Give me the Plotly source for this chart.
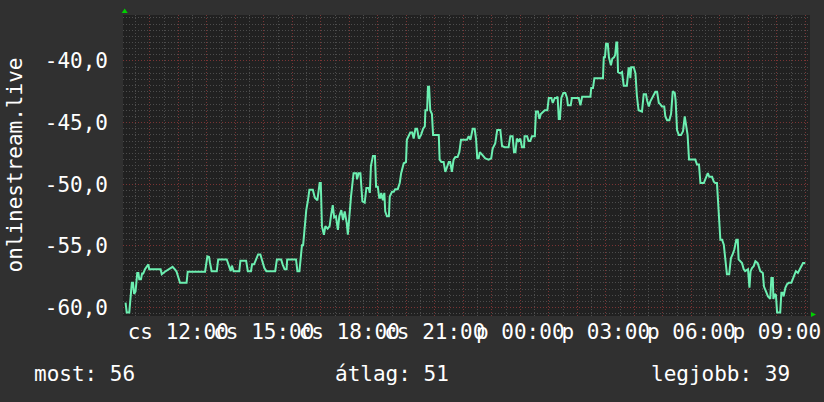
import plotly.graph_objects as go

# ---- data (time in hours since Thursday 00:00, signal value) ----
hours = [
    10.15, 10.19, 10.28, 10.37, 10.41, 10.45, 10.50, 10.56, 10.60, 10.63, 10.69, 10.73, 10.77, 10.83, 10.95, 10.98,
    11.38, 11.42, 11.53, 11.60, 11.71, 11.80, 11.88, 11.94, 12.06, 12.29, 12.33, 12.94, 13.02, 13.08, 13.11, 13.17,
    13.35, 13.40, 13.70, 13.75, 13.84,
    13.88, 13.94, 14.14, 14.18, 14.38, 14.44, 14.55, 14.59, 14.66, 14.80, 14.88, 14.96, 15.02, 15.09, 15.40, 15.46,
    15.61, 15.66, 15.73, 15.80, 15.82, 16.13, 16.18, 16.25, 16.28, 16.34, 16.38, 16.44, 16.49, 16.55, 16.60, 16.72,
    16.79, 16.88, 16.93, 16.96, 17.00, 17.04, 17.11, 17.16, 17.24, 17.31, 17.36, 17.42, 17.47, 17.53, 17.60, 17.65,
    17.72, 17.78, 17.84, 17.91, 17.95, 18.00,
    18.06, 18.15, 18.25, 18.27, 18.33, 18.39, 18.42, 18.46, 18.54, 18.60, 18.68, 18.72, 18.76, 18.83, 18.90, 18.94,
    19.00, 19.05, 19.09, 19.12, 19.18, 19.23, 19.26, 19.32, 19.39, 19.42, 19.50, 19.56, 19.61, 19.70, 19.77, 19.82,
    19.91, 19.99, 20.02, 20.08, 20.14, 20.21, 20.26, 20.32, 20.38, 20.44, 20.52, 20.59, 20.65, 20.67, 20.73, 20.76,
    20.80, 20.84, 20.90, 20.94, 21.14, 21.17, 21.23, 21.31, 21.37, 21.43, 21.49, 21.54, 21.60, 21.66, 21.72, 21.80,
    21.86, 21.92,
    22.13, 22.19, 22.25, 22.33, 22.40, 22.45, 22.49, 22.54, 22.58, 22.66, 22.77, 22.89, 22.98, 23.03, 23.12, 23.19,
    23.30, 23.36, 23.45, 23.59, 23.65, 23.73, 23.78, 23.83, 23.88, 23.94, 24.00, 24.06, 24.13, 24.15, 24.24, 24.29,
    24.35, 24.41, 24.51, 24.55, 24.62, 24.67, 24.72, 24.86, 24.95, 25.00, 25.09, 25.14, 25.21, 25.26, 25.31, 25.35,
    25.39, 25.44, 25.51, 25.58, 25.64, 25.67, 25.77, 25.81, 26.05,
    26.11, 26.17, 26.46, 26.49, 26.55, 26.60, 26.90, 26.93, 26.97, 27.01, 27.07, 27.11, 27.18, 27.23, 27.29, 27.33,
    27.37, 27.40, 27.43, 27.51, 27.57, 27.63, 27.74, 27.80, 27.84, 27.86, 27.89, 27.98, 28.04, 28.09, 28.15, 28.27,
    28.33, 28.41, 28.45, 28.51, 28.56, 28.66, 28.74, 28.80, 28.86, 28.91, 28.97, 29.05, 29.09, 29.15, 29.23, 29.29,
    29.35, 29.42, 29.45, 29.50, 29.56, 29.64, 29.71, 29.77, 29.82, 29.87, 29.92, 30.14,
    30.20, 30.27, 30.32, 30.44, 30.49, 30.58, 30.63, 30.73, 30.79, 30.84, 30.90, 30.96, 31.02, 31.08, 31.14, 31.19,
    31.25, 31.33, 31.39, 31.45, 31.51, 31.58, 31.63, 31.66, 31.78, 31.84, 31.89, 31.99, 32.04, 32.08, 32.13, 32.19,
    32.25, 32.33, 32.42, 32.51, 32.55, 32.62, 32.69, 32.77, 32.81, 32.86, 32.88, 32.93, 32.97, 33.01, 33.12, 33.16,
    33.21, 33.24, 33.30, 33.36, 33.42, 33.51, 33.59, 33.67, 33.74, 33.82, 33.92, 34.00,
]
values = [
    -59.6, -60.4, -60.4, -58.0, -58.0, -58.9, -58.7, -57.2, -57.2, -57.7, -57.7, -57.25, -57.25, -56.9, -56.5, -56.9,
    -56.9, -57.3, -57.1, -57.0, -56.9, -56.7, -56.9, -57.1, -58.0, -58.0, -57.1, -57.1, -55.85, -55.9, -56.35, -57.05,
    -57.05, -56.1, -56.1, -56.5, -57.05,
    -56.6, -57.05, -57.05, -56.2, -56.2, -57.05, -57.05, -56.5, -56.5, -55.7, -55.7, -56.4, -56.8, -57.05, -57.05, -56.1,
    -56.1, -56.5, -56.9, -56.9, -56.1, -56.1, -57.05, -57.05, -56.1, -54.95, -54.95, -53.4, -52.1, -51.3, -50.45, -50.45,
    -51.1, -51.3, -50.45, -49.9, -49.9, -53.4, -54.1, -53.4, -53.6, -53.4, -52.5, -51.7, -52.7, -52.6, -53.7, -52.6,
    -52.1, -52.9, -52.2, -53.15, -54.1, -52.5,
    -51.0, -49.1, -49.1, -49.6, -49.1, -49.1, -50.2, -51.4, -51.5, -50.3, -50.3, -50.7, -48.5, -47.7, -47.7, -50.2,
    -50.2, -51.1, -51.1, -50.7, -51.3, -50.7, -52.2, -52.6, -52.6, -51.0, -50.6, -50.6, -50.4, -50.4, -49.9, -49.1,
    -48.3, -48.2, -46.4, -46.1, -45.8, -45.8, -46.3, -45.5, -45.5, -46.3, -46.0, -45.5, -45.3, -44.0, -44.0, -42.1,
    -42.1, -44.0, -44.3, -46.0, -46.0, -48.0, -48.2, -48.2, -49.0, -48.6, -48.2, -48.2, -49.0, -48.0, -47.8, -47.8,
    -47.4, -46.4,
    -46.4, -46.1, -46.4, -45.5, -45.5, -46.4, -47.9, -47.9, -47.4, -47.6, -47.9, -48.0, -47.9, -47.1, -46.7, -45.6,
    -45.6, -46.9, -47.0, -47.0, -46.1, -46.1, -47.4, -47.4, -46.3, -46.5, -46.3, -47.0, -47.0, -46.1, -46.1, -46.5,
    -46.5, -46.1, -46.1, -44.1, -44.1, -44.7, -44.3, -44.0, -44.0, -43.0, -43.0, -43.4, -43.0, -43.0, -42.9, -44.7,
    -44.7, -43.0, -42.6, -42.6, -43.0, -43.6, -43.6, -43.0, -43.0,
    -43.6, -42.9, -42.9, -42.2, -42.2, -41.4, -41.4, -39.7, -39.7, -38.6, -38.6, -39.7, -40.35, -39.8, -39.7, -39.5,
    -38.5, -38.5, -40.9, -41.0, -40.9, -42.0, -42.0, -40.6, -40.6, -41.4, -40.5, -40.5, -41.0, -42.8, -44.0, -44.1,
    -42.7, -42.7, -43.2, -43.7, -43.3, -42.8, -42.5, -42.5, -43.4, -43.5, -43.7, -43.7, -44.5, -44.8, -44.8, -44.3,
    -42.45, -42.6, -43.2, -45.6, -46.0, -46.0, -45.7, -44.5, -45.2, -46.0, -48.0, -48.0,
    -48.4, -48.4, -49.9, -49.9, -49.6, -49.1, -49.4, -49.4, -49.8, -49.9, -49.9, -52.6, -54.5, -54.5, -54.9, -56.0,
    -57.3, -57.3, -56.0, -55.7, -55.3, -54.5, -54.5, -56.1, -56.4, -56.9, -57.05, -56.9, -58.4, -57.05, -56.8, -56.65,
    -56.25, -56.4, -57.05, -57.2, -58.3, -58.7, -59.1, -59.3, -57.6, -57.6, -59.3, -58.9, -59.0, -60.4, -60.4, -58.8,
    -58.8, -59.1, -58.4, -58.1, -58.0, -58.0, -57.5, -57.05, -57.2, -56.8, -56.4, -56.4,
]

tick_hours = [12, 15, 18, 21, 24, 27, 30, 33]
tick_labels = ["cs 12:00", "cs 15:00", "cs 18:00", "cs 21:00", "p 00:00", "p 03:00", "p 06:00", "p 09:00"]
grid_hours = list(range(11, 35))
y_ticks = [-60, -55, -50, -45, -40]
y_labels = ["-60,0", "-55,0", "-50,0", "-45,0", "-40,0"]
axis_title = "onlinestream.live"
legend_texts = ["most: 56", "átlag: 51", "legjobb: 39"]

x_range = [10.06, 34.165]
y_range = [-60.69, -36.27]

FONT = "DejaVu Sans Mono"
FS = 21
BG = "#303030"
PLOT_BG = "#212121"
LINE = "#6cefb1"
MAJOR = "#7a3434"
MINOR = "#4c4c4c"
DOTS = "1px,2px"

xt_text = [tick_labels[tick_hours.index(h)] if h in tick_hours else "" for h in grid_hours]

fig = go.Figure()
fig.add_trace(go.Scatter(
    x=hours, y=values, mode="lines",
    line=dict(color=LINE, width=2),
    hoverinfo="skip", showlegend=False,
))

W, H = 824, 402
ml, mr, mt, mb = 123, 14, 15, 86
pw, ph = W - ml - mr, H - mt - mb


def px(xs):
    return (xs - ml) / pw


def py(ys):
    return (H - mb - ys) / ph


fig.update_layout(
    width=W, height=H,
    margin=dict(l=ml, r=mr, t=mt, b=mb, pad=0, autoexpand=False),
    paper_bgcolor=BG, plot_bgcolor=PLOT_BG,
    font=dict(family=FONT, color="#ffffff", size=FS),
    showlegend=False,
    xaxis=dict(
        range=x_range, tickmode="array", tickvals=grid_hours, ticktext=xt_text,
        showgrid=True, gridcolor=MAJOR, griddash=DOTS, gridwidth=1,
        minor=dict(tickmode="linear", tick0=0, dtick=0.5, showgrid=True,
                   gridcolor=MINOR, griddash=DOTS, gridwidth=1),
        zeroline=False, showline=False, ticks="", tickangle=0, automargin=False,
        tickfont=dict(family=FONT, size=FS, color="#ffffff"),
        ticklabelstandoff=1,
    ),
    yaxis=dict(
        range=y_range, tickmode="array", tickvals=y_ticks, ticktext=y_labels,
        showgrid=True, gridcolor=MAJOR, griddash=DOTS, gridwidth=1,
        minor=dict(tickmode="linear", tick0=0, dtick=0.5, showgrid=True,
                   gridcolor=MINOR, griddash=DOTS, gridwidth=1),
        zeroline=False, showline=False, ticks="", automargin=False,
        tickfont=dict(family=FONT, size=FS, color="#ffffff"),
        ticklabelstandoff=14,
    ),
)

annotations = [dict(
    text=axis_title, textangle=-90, xref="paper", yref="paper",
    x=px(14), y=0.5, xanchor="center", yanchor="middle", showarrow=False,
    font=dict(family=FONT, size=FS, color="#ffffff"),
)]
for t, lx in zip(legend_texts, [32, 333, 649]):
    annotations.append(dict(
        text=t, xref="paper", yref="paper", x=px(lx), y=py(374),
        xanchor="left", yanchor="middle", showarrow=False,
        font=dict(family=FONT, size=FS, color="#ffffff"),
    ))
fig.update_layout(annotations=annotations)

# small green axis arrows
fig.add_shape(type="path", xref="paper", yref="paper",
              path=f"M {px(121.7)} {py(13)} L {px(127.7)} {py(13)} L {px(124.7)} {py(8.5)} Z",
              fillcolor="#00d000", line=dict(width=0))
fig.add_shape(type="path", xref="paper", yref="paper",
              path=f"M {px(811)} {py(312)} L {px(811)} {py(317)} L {px(816)} {py(314.5)} Z",
              fillcolor="#00d000", line=dict(width=0))

fig.write_html(
    "out.html",
    config={"displayModeBar": False, "staticPlot": True},
    post_script="document.body.style.margin='0';document.body.style.background='" + BG + "';",
)
